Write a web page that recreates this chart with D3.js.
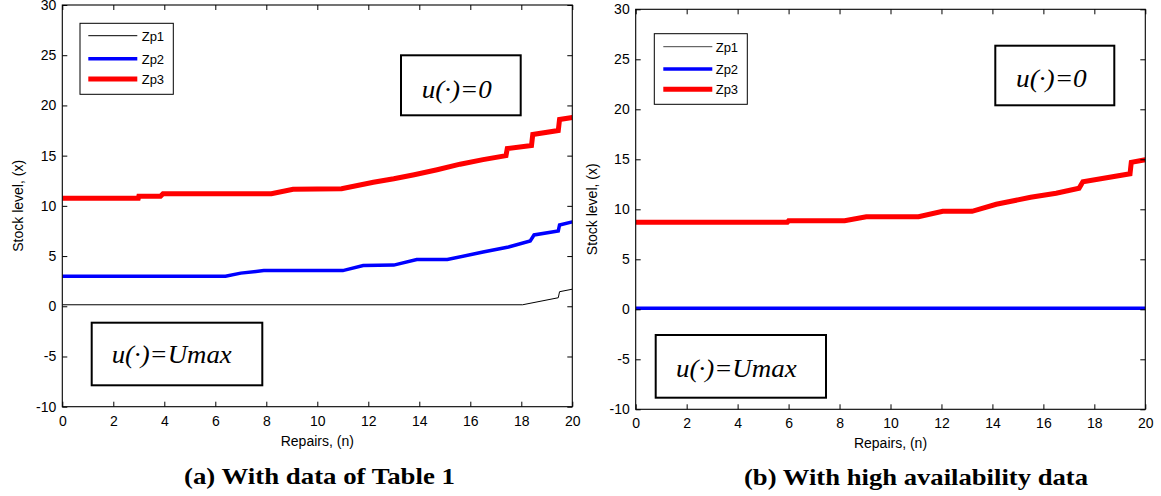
<!DOCTYPE html>
<html><head><meta charset="utf-8">
<script src="https://cdn.jsdelivr.net/npm/d3@7"></script>
<style>
html,body{margin:0;padding:0;background:#fff;}
svg{display:block;}
</style>
</head><body>
<svg id="c" width="1161" height="496"></svg>
<script>
// ---- data ----
const seriesNames = ["Zp1", "Zp2", "Zp3"];
const xTicks = [0,2,4,6,8,10,12,14,16,18,20];
const yTicks = [-10,-5,0,5,10,15,20,25,30];

// panel (a): with data of Table 1  [repairs n, stock level x]
const a_Zp1 = [[0,0.15],[18.05,0.15],[19.45,0.85],[19.5,1.45],[20,1.7]];
const a_Zp2 = [[0,3.0],[6.4,3.0],[7.0,3.3],[7.9,3.55],[11.0,3.55],[11.8,4.05],[13.0,4.1],[13.9,4.65],[15.1,4.65],[16.5,5.4],[17.5,5.9],[18.35,6.5],[18.5,7.1],[19.45,7.5],[19.5,8.1],[20,8.4]];
const a_Zp3 = [[0,10.75],[2.98,10.75],[3.0,10.95],[3.85,10.95],[3.95,11.2],[8.2,11.2],[9.05,11.65],[10.95,11.7],[12.2,12.35],[13.0,12.7],[13.8,13.1],[14.7,13.6],[15.6,14.15],[16.5,14.6],[17.4,15.0],[17.45,15.7],[18.4,16.0],[18.45,17.1],[19.45,17.5],[19.5,18.6],[20,18.8]];

// panel (b): with high availability data
const b_Zp1 = [[0,0],[20,0]];
const b_Zp2 = [[0,0.1],[20,0.1]];
const b_Zp3 = [[0,8.7],[5.95,8.7],[6.0,8.85],[8.2,8.85],[9.05,9.25],[11.1,9.25],[12.05,9.8],[13.2,9.8],[14.15,10.5],[15.5,11.2],[16.5,11.6],[17.4,12.1],[17.55,12.75],[19.4,13.55],[19.45,14.7],[20,14.95]];

const captions = ["(a) With data of Table 1", "(b) With high availability data"];
const xLabel = "Repairs, (n)";
const yLabel = "Stock level, (x)";
const annotTop = "u(·)=0";
const annotBottom = "u(·)=Umax";

// ---- drawing ----
const svg = d3.select("#c");
const colors = ["#000000", "#0000ff", "#ff0000"];
const widths = [1, 3.5, 5];
const sans = "'Liberation Sans', Arial, sans-serif";
const serif = "'Liberation Serif', 'Times New Roman', serif";

const panels = [
  {x0:62.3, x1:572.3, y0:5, y1:406.7, data:[a_Zp1,a_Zp2,a_Zp3], caption:captions[0], capX:319.5, capY:483.5, capW:271,
   legend:{x:80, y:23.3, w:93.3, h:71, rows:[35.7,58.7,79], lx0:88.3, lx1:137.3, tx:141.7},
   boxTop:{x:401,y:55.3,w:119.7,h:60, tx:421.7, ty:97.7, tw:70},
   boxBot:{x:91.7,y:322.7,w:170.6,h:62.6, tx:111.7, ty:363.3, tw:120},
   ylx:23, zp1Color:"#000"},
  {x0:635.7, x1:1145.3, y0:9.3, y1:409.3, data:[b_Zp1,b_Zp2,b_Zp3], caption:captions[1], capX:916, capY:485, capW:344,
   legend:{x:654.3, y:33.7, w:93, h:70.6, rows:[46.7,69,89.3], lx0:663.3, lx1:712.3, tx:715.7},
   boxTop:{x:995.3,y:45.7,w:119,h:59.6, tx:1016, ty:87.3, tw:70.7},
   boxBot:{x:655.7,y:335,w:170.3,h:62.7, tx:676, ty:376.7, tw:120.7},
   ylx:597, zp1Color:"#444"}
];

panels.forEach(p => {
  const x = d3.scaleLinear().domain([0,20]).range([p.x0,p.x1]);
  const y = d3.scaleLinear().domain([-10,30]).range([p.y1,p.y0]);
  const g = svg.append("g");

  // lines (clipped to plot)
  const clipId = "clip" + Math.round(p.x0);
  svg.append("clipPath").attr("id", clipId).append("rect")
    .attr("x", p.x0).attr("y", p.y0).attr("width", p.x1-p.x0).attr("height", p.y1-p.y0);
  const line = d3.line().x(d => x(d[0])).y(d => y(d[1]));
  const lg = g.append("g").attr("clip-path", `url(#${clipId})`);
  p.data.forEach((d,i) => {
    lg.append("path").attr("d", line(d)).attr("fill","none")
      .attr("stroke", i===0 ? p.zp1Color : colors[i]).attr("stroke-width", widths[i])
      .attr("stroke-linejoin","miter");
  });

  // axes with inward ticks
  const fmt = d => String(d);
  const axB = d3.axisBottom(x).tickValues(xTicks).tickSizeInner(-5).tickSizeOuter(0).tickPadding(9).tickFormat(fmt);
  const axT = d3.axisTop(x).tickValues(xTicks).tickSizeInner(-5).tickSizeOuter(0).tickFormat("");
  const axL = d3.axisLeft(y).tickValues(yTicks).tickSizeInner(-5).tickSizeOuter(0).tickPadding(6).tickFormat(fmt);
  const axR = d3.axisRight(y).tickValues(yTicks).tickSizeInner(-5).tickSizeOuter(0).tickFormat("");
  [[axB,`translate(0,${p.y1})`],[axT,`translate(0,${p.y0})`],[axL,`translate(${p.x0},0)`],[axR,`translate(${p.x1},0)`]].forEach(([ax,tr]) => {
    const ag = g.append("g").attr("transform", tr).call(ax);
    ag.select(".domain").remove();
    ag.selectAll("line").attr("stroke","#000");
    ag.selectAll("text").attr("font-family", sans).attr("font-size", 14).attr("fill","#000");
  });
  g.append("rect").attr("x",p.x0).attr("y",p.y0).attr("width",p.x1-p.x0).attr("height",p.y1-p.y0)
    .attr("fill","none").attr("stroke","#000").attr("stroke-width",1.1);

  // axis labels
  g.append("text").attr("x",(p.x0+p.x1)/2).attr("y",p.y1+39).attr("text-anchor","middle")
    .attr("font-family",sans).attr("font-size",14).text(xLabel);
  g.append("text").attr("transform",`translate(${p.ylx},${(p.y0+p.y1)/2}) rotate(-90)`).attr("text-anchor","middle")
    .attr("font-family",sans).attr("font-size",14).text(yLabel);

  // legend
  const L = p.legend;
  g.append("rect").attr("x",L.x).attr("y",L.y).attr("width",L.w).attr("height",L.h)
    .attr("fill","#fff").attr("stroke","#000").attr("stroke-width",1);
  seriesNames.forEach((n,i) => {
    g.append("line").attr("x1",L.lx0).attr("x2",L.lx1).attr("y1",L.rows[i]).attr("y2",L.rows[i])
      .attr("stroke", i===0 ? p.zp1Color : colors[i]).attr("stroke-width", widths[i]);
    g.append("text").attr("x",L.tx).attr("y",L.rows[i]+5).attr("font-family",sans).attr("font-size",13).text(n);
  });

  // annotation boxes
  [[p.boxTop, annotTop],[p.boxBot, annotBottom]].forEach(([b,t]) => {
    g.append("rect").attr("x",b.x).attr("y",b.y).attr("width",b.w).attr("height",b.h)
      .attr("fill","#fff").attr("stroke","#000").attr("stroke-width",2);
    g.append("text").attr("x",b.tx).attr("y",b.ty).attr("font-family",serif).attr("font-style","italic")
      .attr("font-size",26).attr("textLength",b.tw).attr("lengthAdjust","spacingAndGlyphs").text(t);
  });

  // caption
  g.append("text").attr("x",p.capX).attr("y",p.capY).attr("text-anchor","middle")
    .attr("font-family",serif).attr("font-weight","bold").attr("font-size",23)
    .attr("textLength",p.capW).attr("lengthAdjust","spacingAndGlyphs").text(p.caption);
});
</script>
</body></html>
